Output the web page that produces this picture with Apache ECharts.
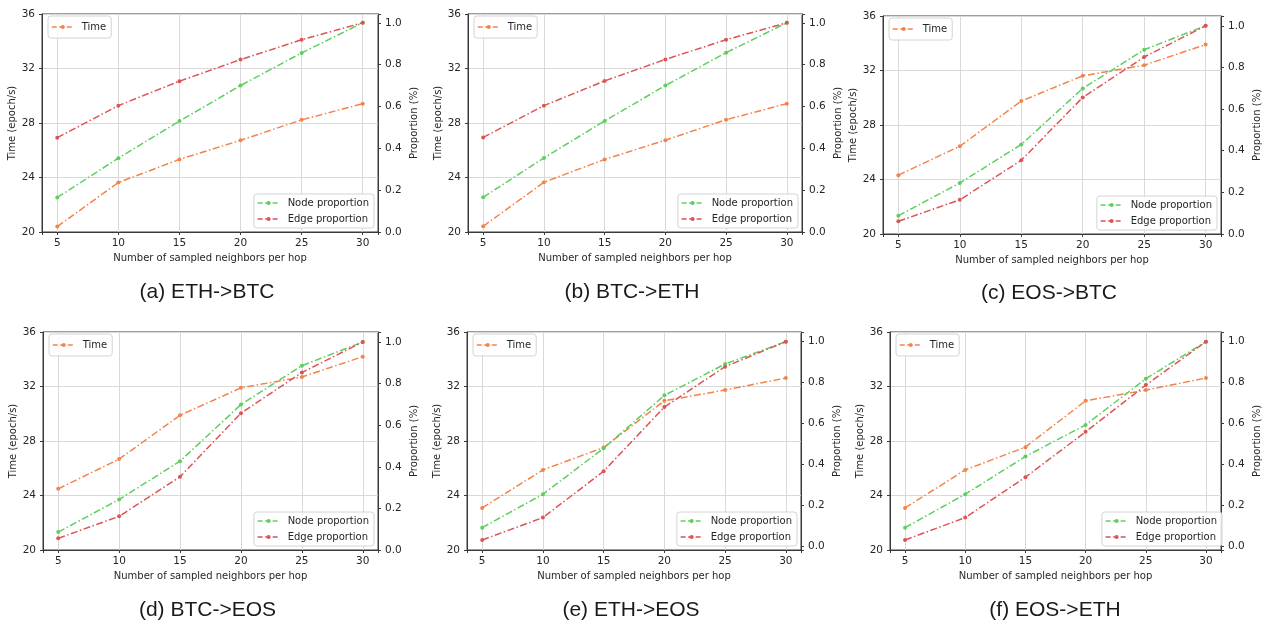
<!DOCTYPE html>
<html>
<head>
<meta charset="utf-8">
<script src="https://cdn.jsdelivr.net/npm/echarts@6/dist/echarts.min.js"></script>
<style>
  html, body { margin: 0; padding: 0; background: #fff; }
  #main { width: 1263px; height: 623px; }
</style>
</head>
<body>
<div id="main"></div>
<script>
// x: number of sampled neighbors per hop
var xValues = [5, 10, 15, 20, 25, 30];
var panelTitles = ['(a) ETH->BTC', '(b) BTC->ETH', '(c) EOS->BTC', '(d) BTC->EOS', '(e) ETH->EOS', '(f) EOS->ETH'];

// time (epoch/s), left axis
var timeA = [20.40, 23.63, 25.33, 26.73, 28.23, 29.42];
var timeB = [20.42, 23.65, 25.33, 26.74, 28.24, 29.42];
var timeC = [24.32, 26.44, 29.76, 31.61, 32.39, 33.90];
var timeD = [24.49, 26.67, 29.89, 31.90, 32.70, 34.19];
var timeE = [23.09, 25.88, 27.52, 30.95, 31.74, 32.62];
var timeF = [23.09, 25.88, 27.55, 30.95, 31.74, 32.62];

// node proportion, right axis
var nodeA = [0.165, 0.353, 0.530, 0.700, 0.856, 1.0];
var nodeB = [0.166, 0.354, 0.531, 0.700, 0.857, 1.0];
var nodeC = [0.088, 0.245, 0.430, 0.699, 0.885, 1.0];
var nodeD = [0.086, 0.243, 0.427, 0.699, 0.886, 1.0];
var nodeE = [0.093, 0.256, 0.480, 0.738, 0.891, 1.0];
var nodeF = [0.093, 0.256, 0.440, 0.594, 0.819, 1.0];

// edge proportion, right axis
var edgeA = [0.451, 0.604, 0.721, 0.824, 0.919, 1.0];
var edgeB = [0.452, 0.604, 0.722, 0.825, 0.919, 1.0];
var edgeC = [0.061, 0.164, 0.354, 0.656, 0.850, 1.0];
var edgeD = [0.056, 0.162, 0.352, 0.658, 0.853, 1.0];
var edgeE = [0.033, 0.142, 0.368, 0.681, 0.878, 1.0];
var edgeF = [0.033, 0.142, 0.339, 0.560, 0.788, 1.0];

var timeSets = [timeA, timeB, timeC, timeD, timeE, timeF];
var nodeSets = [nodeA, nodeB, nodeC, nodeD, nodeE, nodeF];
var edgeSets = [edgeA, edgeB, edgeC, edgeD, edgeE, edgeF];

// right axis limits per panel
var propMin = [0, 0, 0, 0, -0.016, -0.016];
var propMax = [1.042, 1.042, 1.047, 1.048, 1.047, 1.047];

var W = 1263, H = 623;
// plot boxes: [left, top, right, bottom]
var boxes = [
    [42, 14, 378, 232],
    [468, 14, 802, 232],
    [883, 16, 1221, 234],
    [43, 332, 378, 550],
    [467, 332, 801, 550],
    [890, 332, 1226, 550]
];
var titleY = [294, 294, 295, 612, 612, 612];

var cTime = '#f3834a';
var cNode = '#5ecf5e';
var cEdge = '#dc5454';
var dashDot = [7, 2.5, 1.5, 2.5];
var fontTick = 'DejaVu Sans';
var textColor = '#262626';

function mk(v) { return Math.abs(v * 5 - Math.round(v * 5)) < 1e-6; }

var grids = [], xAxes = [], yAxes = [], series = [], legends = [], titles = [];

boxes.forEach(function (b, i) {
    grids.push({
        left: b[0], top: b[1], width: b[2] - b[0], height: b[3] - b[1],
        show: true, borderColor: '#3a3a3a', borderWidth: 1, backgroundColor: 'transparent'
    });
    xAxes.push({
        type: 'value', gridIndex: i, min: 3.75, max: 31.25, splitNumber: 5,
        name: 'Number of sampled neighbors per hop', nameLocation: 'middle', nameGap: 21,
        nameTextStyle: {fontFamily: fontTick, fontSize: 10, color: textColor},
        axisLine: {show: true, onZero: false, lineStyle: {color: '#3a3a3a'}},
        axisTick: {show: true, length: 3, lineStyle: {color: '#3a3a3a'}},
        axisLabel: {
            margin: 6, fontFamily: fontTick, fontSize: 10.5, color: textColor,
            formatter: function (v) { return v % 5 === 0 ? String(v) : ''; }
        },
        splitLine: {show: true, lineStyle: {color: '#d9d9d9', width: 1}}
    });
    yAxes.push({
        type: 'value', gridIndex: i, position: 'left', min: 20, max: 36, interval: 4,
        name: 'Time (epoch/s)', nameLocation: 'middle', nameGap: 23, nameRotate: 90,
        nameTextStyle: {fontFamily: fontTick, fontSize: 10, color: textColor},
        axisLine: {show: true, lineStyle: {color: '#3a3a3a'}},
        axisTick: {show: true, length: 3, lineStyle: {color: '#3a3a3a'}},
        axisLabel: {margin: 7, fontFamily: fontTick, fontSize: 10.5, color: textColor},
        splitLine: {show: true, lineStyle: {color: '#d9d9d9', width: 1}}
    });
    yAxes.push({
        type: 'value', gridIndex: i, position: 'right', min: propMin[i], max: propMax[i], splitNumber: 5,
        name: 'Proportion (%)', nameLocation: 'middle', nameGap: 31, nameRotate: 90,
        nameTextStyle: {fontFamily: fontTick, fontSize: 10, color: textColor},
        axisLine: {show: true, lineStyle: {color: '#3a3a3a'}},
        axisTick: {show: true, length: 3, lineStyle: {color: '#3a3a3a'}},
        axisLabel: {
            margin: 7, fontFamily: fontTick, fontSize: 10.5, color: textColor,
            formatter: function (v) { return mk(v) ? (Math.round(v * 5) / 5).toFixed(1) : ''; }
        },
        splitLine: {show: false}
    });

    var mkSeries = function (name, data, color, yIdx) {
        return {
            name: name, type: 'line', xAxisIndex: i, yAxisIndex: yIdx,
            data: xValues.map(function (x, k) { return [x, data[k]]; }),
            symbol: 'circle', symbolSize: 4, showSymbol: true,
            lineStyle: {color: color, width: 1.5, type: dashDot},
            itemStyle: {color: color},
            animation: false
        };
    };
    series.push(mkSeries('Time', timeSets[i], cTime, 2 * i));
    series.push(mkSeries('Node proportion', nodeSets[i], cNode, 2 * i + 1));
    series.push(mkSeries('Edge proportion', edgeSets[i], cEdge, 2 * i + 1));

    var legendBase = {
        backgroundColor: 'rgba(255,255,255,0.85)', borderColor: '#d4d4d4', borderWidth: 1,
        borderRadius: 3, itemWidth: 22, itemHeight: 5, itemGap: 6,
        lineStyle: {type: [5, 2.5], width: 1.5},
        textStyle: {fontFamily: fontTick, fontSize: 10, color: textColor, lineHeight: 10, padding: [0, 0, 0, 3]},
        selectedMode: false, orient: 'vertical'
    };
    legends.push(Object.assign({}, legendBase, {
        data: ['Time'], padding: [6, 5, 6, 3], left: b[0] + 6, top: b[1] + 2
    }));
    legends.push(Object.assign({}, legendBase, {
        data: ['Node proportion', 'Edge proportion'], padding: [4, 5, 4, 3],
        right: W - (b[2] - 4), bottom: H - (b[3] - 4)
    }));

    titles.push({
        text: panelTitles[i], left: (b[0] + b[2]) / 2 - 3, top: titleY[i] - 12, textAlign: 'center', padding: 0,
        textStyle: {fontFamily: 'Liberation Sans', fontSize: 21, fontWeight: 'normal', color: '#1a1a1a'}
    });
});

var chart = echarts.init(document.getElementById('main'));
chart.setOption({
    backgroundColor: '#ffffff',
    animation: false,
    title: titles,
    legend: legends,
    grid: grids,
    xAxis: xAxes,
    yAxis: yAxes,
    series: series
});
</script>
</body>
</html>
